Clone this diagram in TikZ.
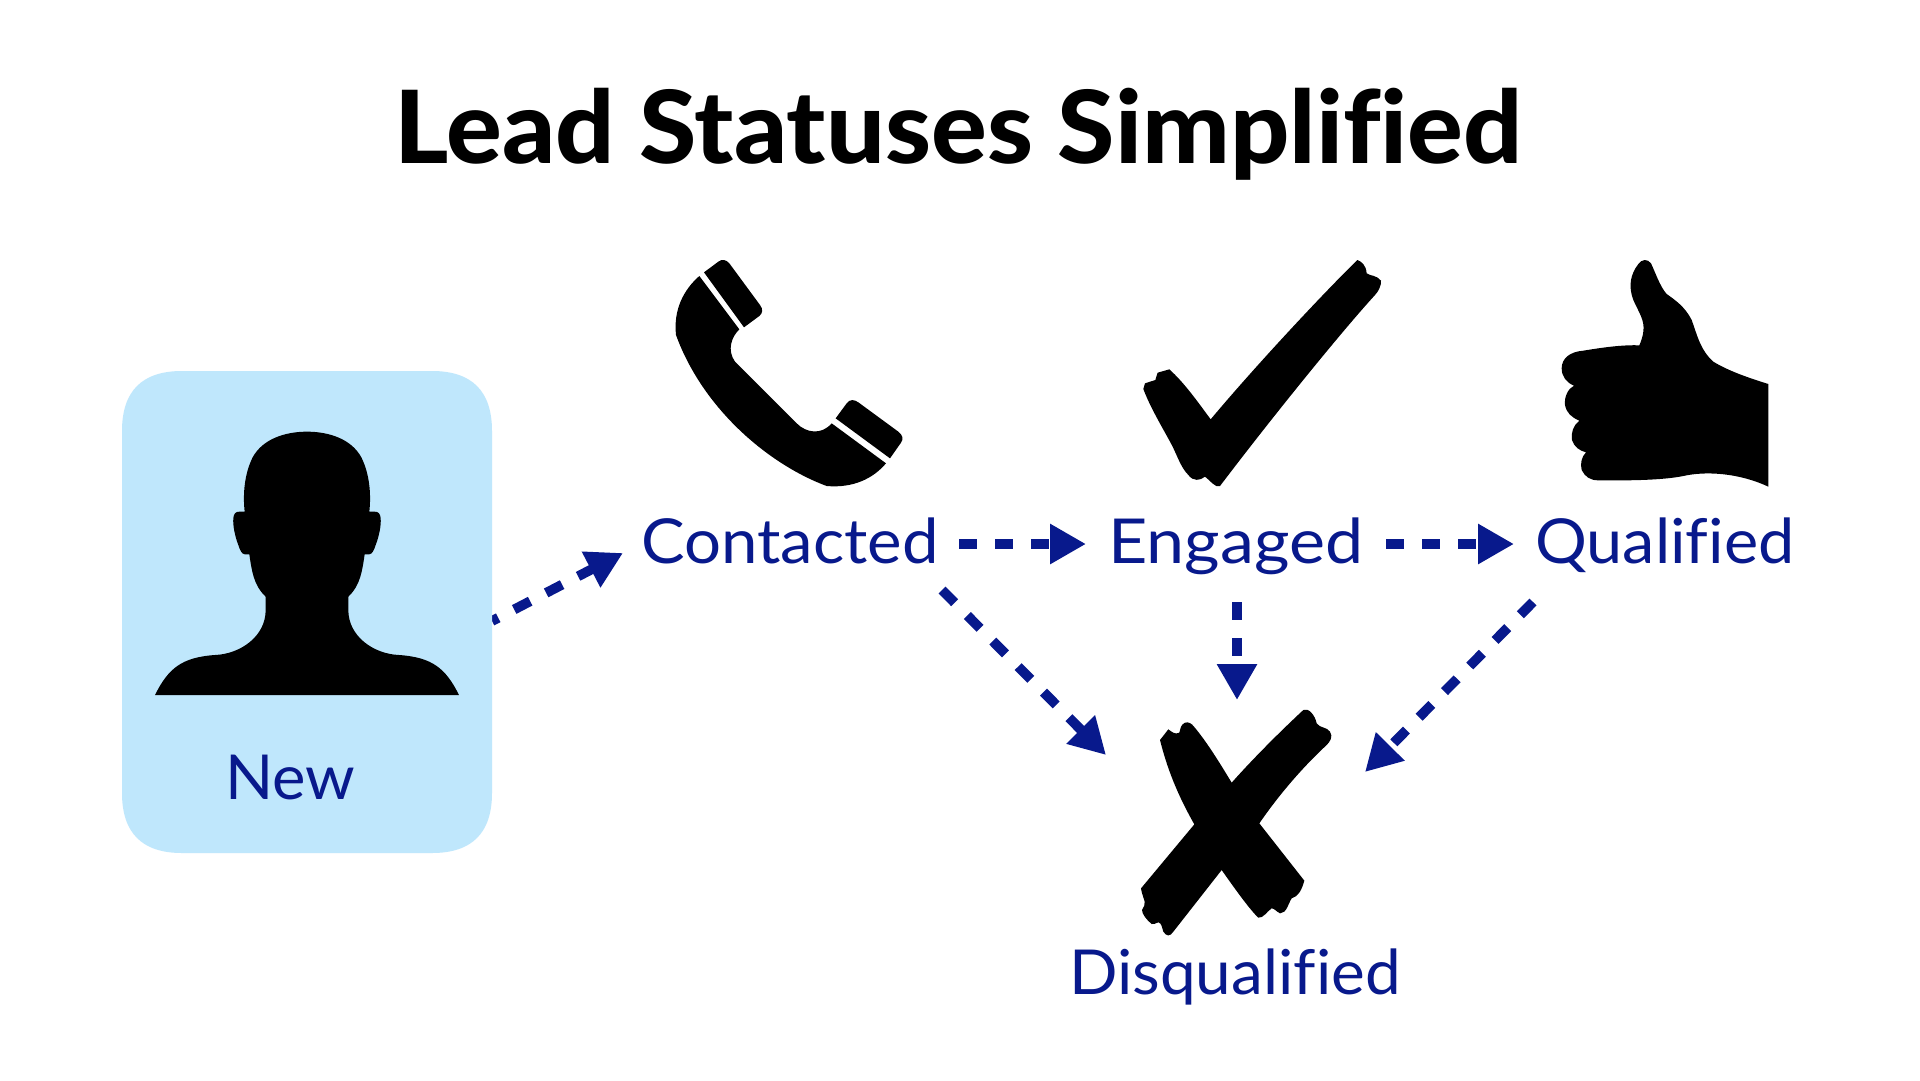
\documentclass[tikz,border=0pt]{standalone}
\usepackage{fontspec}
\usepackage{graphicx}
\usetikzlibrary{arrows.meta}
\setmainfont[Ligatures=NoCommon]{Lato}
\newfontfamily\titlefont[Ligatures=NoCommon]{Lato Heavy}
\definecolor{navy}{HTML}{08198C}
\definecolor{boxblue}{HTML}{BFE7FC}
\tikzset{
  lbl/.style={anchor=base west,inner sep=0pt,text=navy,font=\fontsize{62}{70}\selectfont},
  flow/.style={draw=navy,line width=9.8pt,dash pattern=on 18pt off 18pt,-{Triangle[length=36pt,width=38pt,fill=navy]}},
  icon/.style={fill=black,draw=none},
  zoomed/.style={x=0.33333pt,y=-0.33333pt}
}
\begin{document}
\begin{tikzpicture}[x=1pt,y=-1pt]
\useasboundingbox (0,0) rectangle (1920,1080);
\fill[white] (0,0) rectangle (1920,1080);
% title
\node[anchor=base west,inner sep=0pt,font=\titlefont\fontsize{101}{110}\selectfont] (title) at (394,163) {\scalebox{1.031}[1]{Lead Statuses Simplified}};
% labels
\node[lbl] (contacted) at (641,563) {\scalebox{1.053}[1]{Contacted}};
\node[lbl] (engaged) at (1108,563) {\scalebox{1.10}[1]{Engaged}};
\node[lbl] (qualified) at (1535,563) {\scalebox{1.045}[1]{Qualified}};
\node[lbl] (disq) at (1069,994) {\scalebox{1.03}[1]{Disqualified}};
% connector ends
\coordinate (a1) at (492,621); \coordinate (a2) at (623,553);
\coordinate (b1) at (959,544); \coordinate (b2) at (1086,544);
\coordinate (c1) at (1386,544); \coordinate (c2) at (1514,544);
\coordinate (d1) at (1237,602); \coordinate (d2) at (1237,700);
\coordinate (e1) at (942,590); \coordinate (e2) at (1106,755);
\coordinate (f1) at (1533,602); \coordinate (f2) at (1365,772);
\draw[flow,dash phase=11pt] (a1) -- (a2);
\draw[flow] (b1) -- (b2);
\draw[flow] (c1) -- (c2);
\draw[flow] (d1) -- (d2);
\draw[flow] (e1) -- (e2);
\draw[flow] (f1) -- (f2);
% New box
\fill[boxblue] (182,371) -- (432,371) .. controls (472,371) and (492,391) .. (492,431) -- (492,793) .. controls (492,833) and (472,853) .. (432,853) -- (182,853) .. controls (142,853) and (122,833) .. (122,793) -- (122,431) .. controls (122,391) and (142,371) .. (182,371) -- cycle;
\node[lbl] (new) at (225,799) {\scalebox{1.02}[1]{New}};
% person
\begin{scope}[shift={(110,360)},zoomed]
\fill[icon] (135,1005) .. controls (175,925) and (215,892) .. (315,885)
 .. controls (390,882) and (467,830) .. (467,750) -- (467,710)
 .. controls (430,675) and (425,630) .. (418,583) -- (405,583)
 .. controls (395,583) and (390,570) .. (385,555)
 .. controls (375,530) and (368,495) .. (370,475)
 .. controls (371,460) and (378,455) .. (388,455) -- (404,455)
 .. controls (398,400) and (404,340) .. (428,292)
 .. controls (458,237) and (525,215) .. (591,215)
 .. controls (657,215) and (724,237) .. (754,292)
 .. controls (778,340) and (784,400) .. (778,455) -- (794,455)
 .. controls (804,455) and (811,460) .. (812,475)
 .. controls (814,495) and (807,530) .. (797,555)
 .. controls (792,570) and (787,583) .. (777,583) -- (764,583)
 .. controls (757,630) and (752,675) .. (715,710) -- (715,750)
 .. controls (715,830) and (792,882) .. (867,885)
 .. controls (967,892) and (1007,925) .. (1047,1005) -- cycle;
\end{scope}
% phone
\begin{scope}[shift={(640,240)},zoomed]
\fill[icon] (178,108) -- (298,268) .. controls (275,290) and (260,330) .. (285,365) -- (470,550)
 .. controls (500,580) and (545,585) .. (575,550) -- (738,670)
 .. controls (700,715) and (640,745) .. (560,738)
 .. controls (390,675) and (190,510) .. (108,285)
 .. controls (100,210) and (130,150) .. (178,108) -- cycle;
\fill[icon] (192,97) -- (235,65) .. controls (245,57) and (258,58) .. (268,70) -- (360,195)
 .. controls (370,208) and (368,220) .. (358,228) -- (312,262) -- cycle;
\fill[icon] (587,535) -- (620,490) .. controls (630,477) and (642,478) .. (655,487) -- (775,575)
 .. controls (788,585) and (791,597) .. (783,608) -- (750,655) -- cycle;
\end{scope}
% check
\begin{scope}[shift={(1120,240)},zoomed]
\fill[icon] (70,447) -- (75,430) -- (106,420) .. controls (108,415) and (110,405) .. (113,398) -- (148,388)
 .. controls (195,430) and (240,495) .. (272,538)
 .. controls (400,385) and (600,170) .. (712,60)
 .. controls (725,65) and (738,75) .. (740,100)
 .. controls (750,108) and (770,105) .. (783,122)
 .. controls (785,135) and (775,155) .. (765,165)
 .. controls (660,280) and (450,540) .. (300,738)
 .. controls (285,745) and (270,720) .. (255,710)
 .. controls (240,722) and (220,725) .. (205,705)
 .. controls (180,680) and (170,640) .. (150,605)
 .. controls (120,550) and (90,500) .. (70,447) -- cycle;
\end{scope}
% thumb
\begin{scope}[shift={(1540,240)},zoomed]
\fill[icon] (685,432) .. controls (620,412) and (560,390) .. (520,365)
 .. controls (480,330) and (470,280) .. (455,240)
 .. controls (435,200) and (405,180) .. (380,162)
 .. controls (360,140) and (345,95) .. (333,70)
 .. controls (322,55) and (305,58) .. (295,72)
 .. controls (270,105) and (265,140) .. (280,180)
 .. controls (295,215) and (315,240) .. (310,275)
 .. controls (308,290) and (303,305) .. (298,316)
 .. controls (250,314) and (190,322) .. (130,332)
 .. controls (90,335) and (65,355) .. (65,385)
 .. controls (65,410) and (80,428) .. (102,437)
 .. controls (85,445) and (72,470) .. (75,495)
 .. controls (80,520) and (95,532) .. (118,542)
 .. controls (100,555) and (92,580) .. (96,600)
 .. controls (102,620) and (118,632) .. (138,637)
 .. controls (125,650) and (120,670) .. (125,690)
 .. controls (135,710) and (150,721) .. (175,721)
 .. controls (280,722) and (370,720) .. (430,708)
 .. controls (500,692) and (600,700) .. (685,740) -- cycle;
\end{scope}
% cross
\begin{scope}[shift={(1130,690)},zoomed]
\fill[icon] (90,150) -- (115,118) .. controls (125,125) and (135,135) .. (148,128)
 .. controls (152,118) and (150,105) .. (165,98) .. controls (175,95) and (185,100) .. (192,110)
 .. controls (230,155) and (270,220) .. (305,278)
 .. controls (370,205) and (450,125) .. (520,60)
 .. controls (535,52) and (555,75) .. (560,100)
 .. controls (570,115) and (590,110) .. (600,125)
 .. controls (610,140) and (600,155) .. (590,165)
 .. controls (520,230) and (450,310) .. (388,400) -- (523,572)
 .. controls (515,600) and (505,620) .. (485,625)
 .. controls (475,640) and (470,670) .. (450,670)
 .. controls (440,665) and (432,655) .. (425,655)
 .. controls (410,665) and (400,685) .. (385,683)
 .. controls (360,660) and (310,590) .. (275,540)
 -- (130,725) .. controls (120,740) and (110,740) .. (100,725)
 .. controls (95,710) and (95,700) .. (85,697)
 .. controls (75,700) and (70,705) .. (65,702)
 .. controls (50,690) and (36,672) .. (36,660)
 .. controls (40,650) and (47,645) .. (44,635)
 .. controls (40,620) and (35,610) .. (33,595) -- (193,403)
 .. controls (140,310) and (110,230) .. (90,150) -- cycle;
\end{scope}
\end{tikzpicture}
\end{document}
